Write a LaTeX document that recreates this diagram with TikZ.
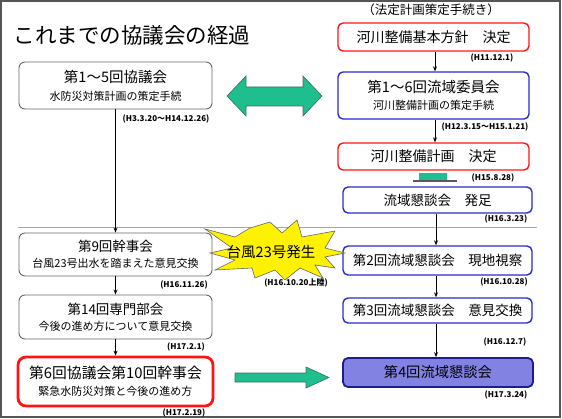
\documentclass[tikz,border=0pt]{standalone}
\usepackage{fontspec}
\setmainfont{Noto Sans CJK JP}
\usetikzlibrary{positioning, arrows.meta}
\definecolor{frcolor}{HTML}{555555}
\definecolor{gcolor}{HTML}{1EBE8E}
\definecolor{gdraw}{HTML}{3C6E5C}
\definecolor{rcolor}{HTML}{FF1414}
\definecolor{bcolor}{HTML}{2A2AD0}
\definecolor{bfill}{HTML}{8282E2}
\definecolor{kcolor}{HTML}{666666}
\newcommand{\fsz}[1]{\fontsize{#1}{#1}\selectfont}

\begin{document}
\begin{tikzpicture}[x=1pt, y=-1pt,
    kbox/.style={rectangle, draw=kcolor, fill=white, rounded corners=6pt, line width=0.9pt, align=center, inner sep=0pt},
    rbox/.style={rectangle, draw=rcolor, fill=white, rounded corners=5pt, line width=1.4pt, align=center, inner sep=0pt, font=\fsz{14}},
    bbox/.style={rectangle, draw=bcolor, fill=white, rounded corners=5pt, line width=1.4pt, align=center, inner sep=0pt, font=\fsz{13.5}},
    date/.style={font=\fsz{8}\bfseries, inner sep=0pt},
    arr/.style={-{Stealth[length=5pt, width=4pt]}, line width=0.8pt},
    bigarr/.style={fill=gcolor, draw=gdraw, line width=0.6pt},
  ]
    \useasboundingbox (0,0) rectangle (562,419);
    \draw[frcolor, line width=1.4pt] (1,1) rectangle (560,417);

    % titles
    \node[font=\fsz{21.5}] (title) at (132,35) {これまでの協議会の経過};
    \node[font=\fsz{12.5}] (sub) at (431,10) {（法定計画策定手続き）};

    % separator
    \draw[gray!70, line width=0.9pt] (18,227.5) -- (537,227.5);

    % left column
    \node[kbox, minimum width=193, minimum height=47, font=\fsz{11}] (k1) at (115.5,85.5)
      {{\fsz{14.5}第1～5回協議会}\\[7pt]水防災対策計画の策定手続};
    \node[kbox, minimum width=193, minimum height=43, font=\fsz{11}] (k9) at (115.5,254.5)
      {{\fsz{13.5}第9回幹事会}\\[5pt]台風23号出水を踏まえた意見交換};
    \node[kbox, minimum width=193, minimum height=44, font=\fsz{11}] (k14) at (115.5,317)
      {{\fsz{13.5}第14回専門部会}\\[5pt]今後の進め方について意見交換};
    \node[kbox, draw=rcolor, line width=2.8pt, rounded corners=8pt, minimum width=195, minimum height=49, font=\fsz{11}] (k6) at (115.5,381.5)
      {{\fsz{14.8}第6回協議会第10回幹事会}\\[6pt]緊急水防災対策と今後の進め方};

    \node[date] (dk1) at (166,119) {(H3.3.20～H14.12.26)};
    \node[date] (dk9) at (184,285) {(H16.11.26)};
    \node[date] (dk14) at (186,347) {(H17.2.1)};
    \node[date] (dk6) at (184,413) {(H17.2.19)};

    \draw[arr] (k1) -- (k9);
    \draw[arr] (k9) -- (k14);
    \draw[arr] (k14) -- (k6);

    % right column
    \node[rbox, minimum width=191, minimum height=28] (r1) at (433.5,37) {河川整備基本方針　決定};
    \node[bbox, minimum width=191, minimum height=47, font=\fsz{11}] (r2) at (433.5,95.5)
      {{\fsz{14.5}第1～6回流域委員会}\\[6pt]河川整備計画の策定手続};
    \node[rbox, minimum width=191, minimum height=27] (r3) at (433.5,156.5) {河川整備計画　決定};
    \node[bbox, minimum width=189, minimum height=26] (r4) at (437.5,200) {流域懇談会　発足};
    \node[bbox, minimum width=189, minimum height=29] (r5) at (437.5,260.5) {第2回流域懇談会　現地視察};
    \node[bbox, minimum width=189, minimum height=25] (r6) at (437.5,310.5) {第3回流域懇談会　意見交換};
    \node[bbox, fill=bfill, draw=bcolor!70!black, line width=1.8pt, minimum width=190, minimum height=29, font=\fsz{14.3}] (r7) at (438,372.5) {第4回流域懇談会};

    \node[date] (dr1) at (492,58) {(H11.12.1)};
    \node[date] (dr2) at (485,127) {(H12.3.15～H15.1.21)};
    \node[date] (dr3) at (493,178) {(H15.8.28)};
    \node[date] (dr4) at (506,219) {(H16.3.23)};
    \node[date] (dr5) at (504,282) {(H16.10.28)};
    \node[date] (dr6) at (505,342) {(H16.12.7)};
    \node[date] (dr7) at (506,395) {(H17.3.24)};

    \draw[arr] (435,0 |- r1.south) -- (435,0 |- r2.north);
    \draw[arr] (435,0 |- r2.south) -- (435,0 |- r3.north);
    \draw[arr] (436,0 |- r4.south) -- (436,0 |- r5.north);
    \draw[arr] (436,0 |- r5.south) -- (436,0 |- r6.north);
    \draw[arr] (436,0 |- r6.south) -- (436,0 |- r7.north);

    % green arrows
    \draw[bigarr] (227,96) -- (246,76) -- (246,87) -- (303,87) -- (303,76) -- (322,96)
      -- (303,116) -- (303,106) -- (246,106) -- (246,116) -- cycle;
    \draw[bigarr] (235,373) -- (306,373) -- (306,367) -- (329,377.5) -- (306,388)
      -- (306,382) -- (235,382) -- cycle;
    \fill[gcolor] (419,173) rectangle (447,180.5);
    \draw[gray!70!black, line width=1.5pt] (413,181) -- (457,181);

    % typhoon burst
    \draw[fill=yellow, draw=black!60, line width=0.6pt] (205,229) -- (235,237) -- (250,228) -- (270,222)
      -- (282,233) -- (297,220) -- (302,237) -- (335,231) -- (325,248) -- (345,253) -- (325,257)
      -- (335,268) -- (315,265) -- (323,278) -- (300,268) -- (285,280) -- (275,270) -- (255,278)
      -- (252,268) -- (215,270) -- (235,260) -- (210,253) -- (232,248) -- cycle;
    \node[font=\fsz{14.5}] (typhoon) at (271,252) {台風23号発生};
    \node[date] (dty) at (296,283) {(H16.10.20上陸)};
  \end{tikzpicture}
\end{document}
